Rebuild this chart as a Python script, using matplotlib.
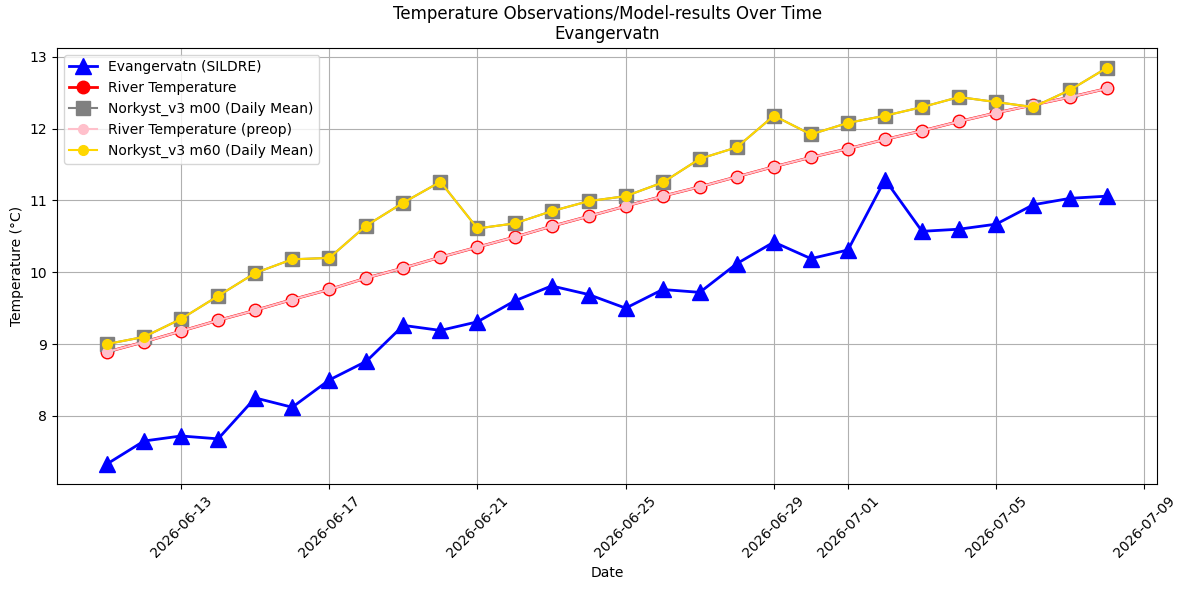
import matplotlib
matplotlib.use("Agg")
import matplotlib.pyplot as plt
import matplotlib.dates as mdates
import pandas as pd

dates = pd.date_range("2026-06-11", "2026-07-08", freq="D")

sildre = [7.33, 7.65, 7.72, 7.68, 8.25, 8.12, 8.50, 8.76, 9.26, 9.19, 9.31, 9.60,
          9.81, 9.69, 9.50, 9.76, 9.72, 10.12, 10.42, 10.19, 10.31, 11.29, 10.57,
          10.60, 10.67, 10.94, 11.03, 11.06]

river = [8.89, 9.03, 9.18, 9.33, 9.47, 9.62, 9.76, 9.92, 10.06, 10.21, 10.35, 10.49,
         10.64, 10.78, 10.92, 11.06, 11.19, 11.33, 11.47, 11.60, 11.72, 11.85, 11.97,
         12.10, 12.22, 12.33, 12.44, 12.56]

river_preop = list(river)

norkyst_m00 = [9.00, 9.10, 9.35, 9.67, 9.99, 10.18, 10.20, 10.65, 10.97, 11.26, 10.61,
               10.68, 10.85, 10.99, 11.06, 11.25, 11.58, 11.74, 12.18, 11.92, 12.08,
               12.18, 12.30, 12.44, 12.37, 12.30, 12.54, 12.85]

norkyst_m60 = list(norkyst_m00)

fig, ax = plt.subplots(figsize=(11.87, 5.9), dpi=100)

ax.plot(dates, sildre, color="blue", marker="^", markersize=12, linewidth=2,
        label="Evangervatn (SILDRE)")
ax.plot(dates, river, color="red", marker="o", markersize=9, linewidth=2,
        label="River Temperature")
ax.plot(dates, norkyst_m00, color="gray", marker="s", markersize=10, linewidth=1.5,
        label="Norkyst_v3 m00 (Daily Mean)")
ax.plot(dates, river_preop, color="pink", marker="o", markersize=7, linewidth=1.5,
        label="River Temperature (preop)")
ax.plot(dates, norkyst_m60, color="gold", marker="o", markersize=7, linewidth=1.5,
        label="Norkyst_v3 m60 (Daily Mean)")

ax.set_title("Temperature Observations/Model-results Over Time\nEvangervatn")
ax.set_xlabel("Date")
ax.set_ylabel("Temperature (°C)")
ax.xaxis.set_major_locator(mdates.DayLocator(bymonthday=range(1, 32, 4)))
ax.xaxis.set_major_formatter(mdates.DateFormatter("%Y-%m-%d"))
plt.setp(ax.get_xticklabels(), rotation=45)
ax.grid(True)
ax.legend(loc="upper left")
fig.subplots_adjust(left=0.048, right=0.975, top=0.919, bottom=0.18)
fig.savefig("out.png")
